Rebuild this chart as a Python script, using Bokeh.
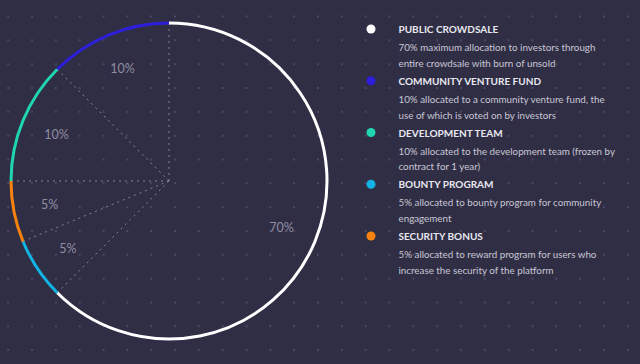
import numpy as np
from bokeh.plotting import figure
from bokeh.models import Range1d, ColumnDataSource
from bokeh.core.properties import value
from bokeh.embed import file_html
from bokeh.resources import INLINE

# ---------------- data ----------------
categories = ["PUBLIC CROWDSALE", "COMMUNITY VENTURE FUND", "DEVELOPMENT TEAM",
              "BOUNTY PROGRAM", "SECURITY BONUS"]
percent = [70, 10, 10, 5, 5]
# share of the full circle each slice occupies in the drawing
drawn_share = [62.5, 12.5, 12.5, 6.25, 6.25]
colors = ["#ffffff", "#2d1fd9", "#1fd6b0", "#13b3e3", "#f7820f"]
descriptions = [
    ["70% maximum allocation to investors through", "entire crowdsale with burn of unsold"],
    ["10% allocated to a community venture fund, the", "use of which is voted on by investors"],
    ["10% allocated to the development team (frozen by", "contract for 1 year)"],
    ["5% allocated to bounty program for community", "engagement"],
    ["5% allocated to reward program for users who", "increase the security of the platform"],
]
# order of slices around the ring, clockwise from 12 o'clock
ring_order = [0, 3, 4, 2, 1]

# ---------------- layout ----------------
BG = "#302e45"
W, H = 640, 364
CX, CY = 168.5, 180.5      # pie centre in page pixels
R = 158                    # pie radius in pixels
LABEL_R = 0.77 * R

def px(X):
    return X - CX

def py(Y):
    return CY - Y

p = figure(width=W, height=H, output_backend="svg", toolbar_location=None,
           x_range=Range1d(px(0), px(W)),
           y_range=Range1d(py(H), py(0)),
           x_axis_location=None, y_axis_location=None, min_border=0,
           background_fill_color=BG, border_fill_color=BG, outline_line_color=None)
p.xgrid.visible = False
p.ygrid.visible = False

# dotted background pattern
gx = np.arange(7.7, W, 23.83)
gy = np.arange(16.0, H, 23.83)
GX, GY = np.meshgrid(gx, gy)
p.scatter(x=px(GX.ravel()), y=py(GY.ravel()), marker="square", size=2,
          fill_color="#4a4862", line_color=None)

# slice angles (clockwise from top)
shares = [drawn_share[i] for i in ring_order]
cum = np.concatenate([[0.0], np.cumsum(shares)]) * 3.6  # degrees clockwise from top
starts_cw = cum[:-1]
ends_cw = cum[1:]
# math angles (counter-clockwise from +x)
start_math = np.deg2rad(90 - ends_cw)
end_math = np.deg2rad(90 - starts_cw)

# radial dotted lines at slice boundaries
bnd = np.deg2rad(90 - cum[:-1])
p.segment(x0=[0] * len(bnd), y0=[0] * len(bnd), x1=R * np.cos(bnd), y1=R * np.sin(bnd),
          line_color="#85839a", line_width=1, line_dash="2 4")

# rim arcs
arc_src = ColumnDataSource(dict(
    x=[0] * len(ring_order), y=[0] * len(ring_order),
    start=start_math, end=end_math,
    color=[colors[i] for i in ring_order]))
p.arc(x="x", y="y", radius=R, radius_units="screen", start_angle="start", end_angle="end",
      direction="anticlock", line_color="color", line_width=3, source=arc_src)

# percentage labels
mid = (start_math + end_math) / 2
p.text(x=LABEL_R * np.cos(mid), y=LABEL_R * np.sin(mid),
       text=[f"{percent[i]}%" for i in ring_order],
       text_align="center", text_baseline="middle", text_font=value("Lato"),
       text_font_size="12.5px", text_color="#8f8da0")

# legend
LEG_Y0, LEG_DY = 28.5, 51.75
DOT_X, TXT_X = 370.5, 398
ly = [LEG_Y0 + LEG_DY * i for i in range(len(categories))]
p.scatter(x=[px(DOT_X)] * len(categories), y=[py(v) for v in ly], size=9,
          fill_color=colors, line_color=None)
p.text(x=[px(TXT_X)] * len(categories), y=[py(v) for v in ly], text=categories,
       text_align="left", text_baseline="middle", text_font=value("Lato"),
       text_font_style="bold", text_font_size="10px", text_color="#e8e8f0")
for k in range(2):
    p.text(x=[px(TXT_X)] * len(categories), y=[py(v + 18.2 + 15.6 * k) for v in ly],
           text=[d[k] for d in descriptions],
           text_align="left", text_baseline="middle", text_font=value("Lato"),
           text_font_size="9.8px", text_color="#c8c7d4")

html = file_html(p, INLINE)
html = html.replace("<head>", "<head><style>body{background:%s;}</style>" % BG, 1)
open("out.html", "w").write(html)
